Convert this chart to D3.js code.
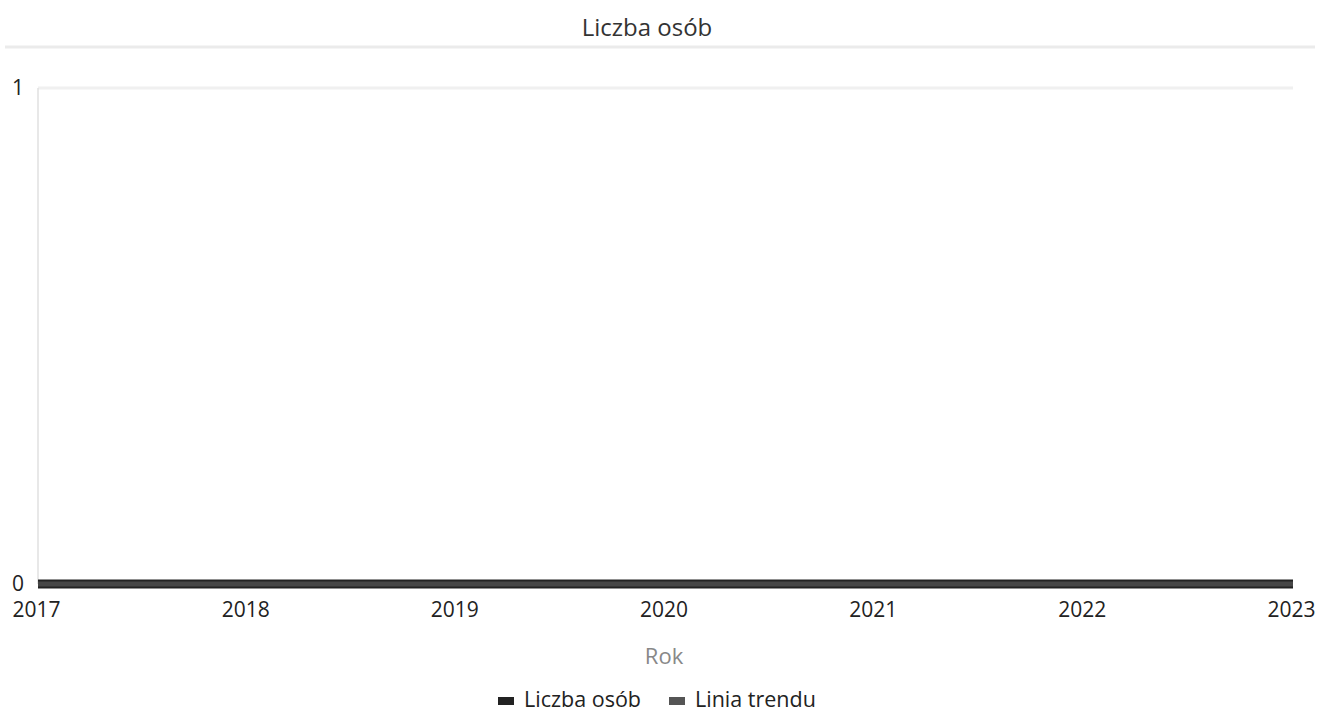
<!DOCTYPE html>
<html><head><meta charset="utf-8">
<script src="https://cdn.jsdelivr.net/npm/d3@7"></script>
<style>body{margin:0;background:#fff;}svg{display:block;font-family:"Open Sans",sans-serif;}</style>
</head><body><svg id="c" width="1319" height="712"></svg>
<script>
const years = [2017, 2018, 2019, 2020, 2021, 2022, 2023];
const liczbaOsob = [0, 0, 0, 0, 0, 0, 0];
const liniaTrendu = [0, 0, 0, 0, 0, 0, 0];
const yTicks = [0, 1];
const seriesNames = ["Liczba osób", "Linia trendu"];
const seriesColors = ["#222222", "#555555"];

(function () {
const svg = d3.select("#c");
const pLeft = 38, pRight = 1293, pTop = 88, pBottom = 584;
const x = d3.scaleLinear().domain([2017, 2023]).range([pLeft, pRight]);
const y = d3.scaleLinear().domain([0, 1]).range([pBottom, pTop]);

// title
svg.append("text").attr("x", 647).attr("y", 36).attr("text-anchor", "middle")
  .attr("font-size", 24).attr("fill", "#333").text("Liczba osób");
svg.append("line").attr("x1", 5).attr("x2", 1315).attr("y1", 47).attr("y2", 47)
  .attr("stroke", "#ebebeb").attr("stroke-width", 3);

// grid
svg.append("g").selectAll("line").data(yTicks.filter(d => d > 0)).join("line")
  .attr("x1", pLeft).attr("x2", pRight).attr("y1", d => y(d)).attr("y2", d => y(d))
  .attr("stroke", "#f0f0f0").attr("stroke-width", 3);
// y axis line
svg.append("line").attr("x1", pLeft).attr("x2", pLeft).attr("y1", pTop).attr("y2", pBottom)
  .attr("stroke", "#e0e0e0").attr("stroke-width", 1.5);

// y labels
const yAxis = d3.axisLeft(y).tickValues(yTicks).tickFormat(d3.format("d")).tickSize(0).tickPadding(14);
const gy = svg.append("g").attr("transform", `translate(${pLeft},0)`).call(yAxis);
gy.select(".domain").remove();
gy.selectAll("text").attr("font-size", 21).attr("fill", "#222").attr("font-family", "Open Sans");

// x labels
const xAxis = d3.axisBottom(x).tickValues(years).tickFormat(d3.format("d")).tickSize(0).tickPadding(18);
const gx = svg.append("g").attr("transform", `translate(-2,${pBottom})`).call(xAxis);
gx.select(".domain").remove();
gx.selectAll("text").attr("font-size", 21).attr("fill", "#222").attr("font-family", "Open Sans");

svg.append("text").attr("x", 664).attr("y", 664).attr("text-anchor", "middle")
  .attr("font-size", 22).attr("fill", "#888").text("Rok");

// lines
const line = d3.line().x((d, i) => x(years[i])).y(d => y(d));
[liczbaOsob, liniaTrendu].forEach((s, k) => {
  svg.append("path").datum(s).attr("d", line).attr("fill", "none")
    .attr("stroke", seriesColors[k]).attr("stroke-width", k === 0 ? 9 : 5)
    .attr("opacity", k === 0 ? 1 : 0.7);
});

// legend
const lx = [498, 669];
seriesNames.forEach((n, k) => {
  svg.append("rect").attr("x", lx[k]).attr("y", 697).attr("width", 16).attr("height", 8)
    .attr("fill", seriesColors[k]);
  svg.append("text").attr("x", lx[k] + 26).attr("y", 707).attr("font-size", 21.5)
    .attr("fill", "#222").text(n);
});
})();
</script></body></html>
